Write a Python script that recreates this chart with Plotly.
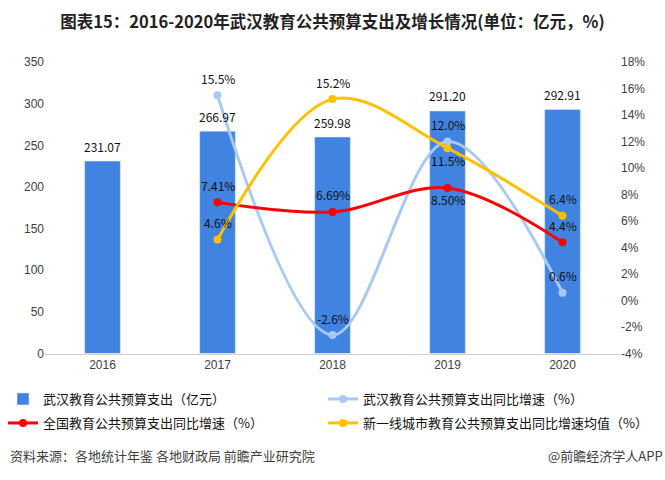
import plotly.graph_objects as go

years = ["2016", "2017", "2018", "2019", "2020"]
wuhan_spend = [231.07, 266.97, 259.98, 291.20, 292.91]
spend_labels = ["231.07", "266.97", "259.98", "291.20", "292.91"]
growth_years = ["2017", "2018", "2019", "2020"]
wuhan_growth = [15.5, -2.6, 12.0, 0.6]
wuhan_labels = ["15.5%", "-2.6%", "12.0%", "0.6%"]
wuhan_pos = ["above", "above", "above", "above"]
national_growth = [7.41, 6.69, 8.50, 4.4]
national_labels = ["7.41%", "6.69%", "8.50%", "4.4%"]
national_pos = ["above", "above", "below", "above"]
tier1_growth = [4.6, 15.2, 11.5, 6.4]
tier1_labels = ["4.6%", "15.2%", "11.5%", "6.4%"]
tier1_pos = ["above", "above", "below", "above"]
right_ticks = list(range(-4, 20, 2))

LBL = dict(family="Noto Sans CJK SC, Liberation Sans", size=12, color="#111111")
LEG = dict(family="Noto Sans CJK SC", size=13, color="#111111")

fig = go.Figure()
fig.add_trace(go.Bar(
    x=years, y=wuhan_spend, name="武汉教育公共预算支出（亿元）",
    marker=dict(color="#4183E0"), width=0.31, legend="legend",
))
fig.add_trace(go.Scatter(
    x=growth_years, y=wuhan_growth, yaxis="y2", name="武汉教育公共预算支出同比增速（%）",
    mode="lines+markers", line=dict(color="#A9C8F3", width=3, shape="spline", smoothing=1.0),
    marker=dict(size=8, color="#A9C8F3"), legend="legend2",
))
fig.add_trace(go.Scatter(
    x=growth_years, y=national_growth, yaxis="y2", name="全国教育公共预算支出同比增速（%）",
    mode="lines+markers", line=dict(color="#FF0000", width=3, shape="spline", smoothing=1.0),
    marker=dict(size=8, color="#FF0000"), legend="legend3",
))
fig.add_trace(go.Scatter(
    x=growth_years, y=tier1_growth, yaxis="y2", name="新一线城市教育公共预算支出同比增速均值（%）",
    mode="lines+markers", line=dict(color="#FFC000", width=3, shape="spline", smoothing=1.0),
    marker=dict(size=8, color="#FFC000"), legend="legend4",
))

annotations = []
for x, y, t in zip(years, wuhan_spend, spend_labels):
    annotations.append(dict(x=years.index(x), y=y, xref="x", yref="y", text=t, showarrow=False,
                            yshift=15, font=LBL))
for ys, labels, pos in [(wuhan_growth, wuhan_labels, wuhan_pos),
                        (national_growth, national_labels, national_pos),
                        (tier1_growth, tier1_labels, tier1_pos)]:
    for x, y, t, p in zip(growth_years, ys, labels, pos):
        annotations.append(dict(x=years.index(x), y=y, xref="x", yref="y2", text=t, showarrow=False,
                                yshift=17 if p == "above" else -12, font=LBL))

annotations += [
    dict(text="资料来源：各地统计年鉴 各地财政局 前瞻产业研究院", xref="paper", yref="paper",
         x=-37/575, y=-(459-356)/294, xanchor="left", yanchor="middle", showarrow=False,
         font=dict(family="Noto Sans CJK SC", size=13, color="#404040")),
    dict(text="@前瞻经济学人APP", xref="paper", yref="paper",
         x=1 + 45/575, y=-(459-356)/294, xanchor="right", yanchor="middle", showarrow=False,
         font=dict(family="Noto Sans CJK SC", size=13, color="#404040")),
]

def leg(xpx, ypx):
    return dict(orientation="h", xref="container", yref="container",
                x=xpx/665, y=1 - ypx/480, xanchor="left", yanchor="middle",
                itemwidth=30, font=LEG, bgcolor="rgba(0,0,0,0)")

fig.update_layout(
    width=665, height=480,
    margin=dict(l=45, r=45, t=62, b=124),
    paper_bgcolor="white", plot_bgcolor="white",
    showlegend=True,
    title=dict(text="<b>图表15：2016-2020年武汉教育公共预算支出及增长情况(单位：亿元，%)</b>",
               x=0.5, xanchor="center", y=1 - 22/480, yanchor="middle",
               font=dict(family="Noto Sans CJK SC", size=16.5, color="#222222")),
    xaxis=dict(type="category", range=[-0.5, 4.5], showgrid=False, showline=True,
               linecolor="#D0D0D0", linewidth=1,
               ticks="", tickfont=dict(family="Liberation Sans", size=12, color="#404040")),
    yaxis=dict(range=[0, 350], dtick=50, showgrid=False, zeroline=False, showline=False,
               tickfont=dict(family="Liberation Sans", size=12, color="#404040")),
    yaxis2=dict(overlaying="y", side="right", range=[-4, 18], tickvals=right_ticks,
                ticktext=[f"{v}%" for v in right_ticks], showgrid=False, zeroline=False,
                tickfont=dict(family="Liberation Sans", size=12, color="#404040")),
    legend=leg(3, 399),
    legend2=leg(323, 399),
    legend3=leg(3, 423),
    legend4=leg(323, 423),
    annotations=annotations,
)

fig.write_html("out.html")
